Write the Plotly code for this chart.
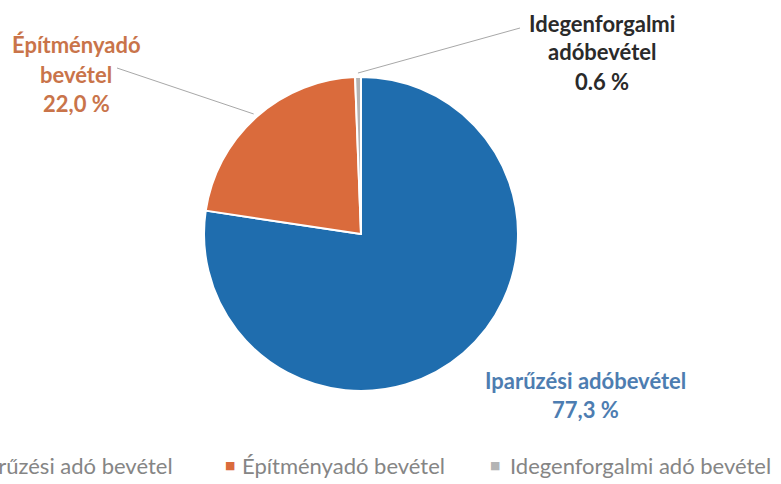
import math
import plotly.graph_objects as go

# adatok
labels = ["Iparűzési adó bevétel", "Építményadó bevétel", "Idegenforgalmi adó bevétel"]
values = [77.3, 22.0, 0.6]
value_text = ["77,3 %", "22,0 %", "0.6 %"]
label_lines = [["Iparűzési adóbevétel"], ["Építményadó", "bevétel"], ["Idegenforgalmi", "adóbevétel"]]
colors = ["#1F6DAE", "#DA6B3C", "#B4B4B4"]
text_colors = ["#4D7DB1", "#C9744A", "#2A2A2A"]

W, H = 781, 484
cx, cy, r = 361, 234, 157  # pie centre/radius in px

fig = go.Figure()
fig.add_trace(go.Pie(
    labels=labels, values=values, sort=False, direction="clockwise", rotation=0,
    marker=dict(colors=colors, line=dict(color="white", width=2)),
    textinfo="none", hoverinfo="label+percent", showlegend=False,
    domain=dict(x=[(cx - r) / W, (cx + r) / W], y=[1 - (cy + r) / H, 1 - (cy - r) / H]),
))


def edge_point(i, rr):
    # point at radius rr, in the middle of slice i
    total = sum(values)
    start = sum(values[:i]) / total * 360
    mid = math.radians(start + values[i] / total * 180)
    return (cx + rr * math.sin(mid)) / W, 1 - (cy - rr * math.cos(mid)) / H


# leader lines
for i, (tx, ty) in [(1, (117, 68)), (2, (520, 28))]:
    ex, ey = edge_point(i, r + 4)
    fig.add_shape(type="line", xref="paper", yref="paper",
                  x0=ex, y0=ey, x1=tx / W, y1=1 - ty / H,
                  line=dict(color="#A8A8A8", width=1))

# labels: centre x, y of first line, line spacing
label_pos = [(585, 380), (76, 45), (602, 23)]
line_gap = 29
for i, (px, py) in enumerate(label_pos):
    lines = label_lines[i] + [value_text[i]]
    for k, txt in enumerate(lines):
        fig.add_annotation(
            x=px / W, y=1 - (py + k * line_gap) / H, xref="paper", yref="paper",
            showarrow=False, text=f"<b>{txt}</b>",
            font=dict(family="Lato", size=22, color=text_colors[i]),
            xanchor="center", yanchor="middle",
        )

# legend (drawn by hand: the first entry runs off the left edge in the original)
legend_marker_x = [-36, 230, 495]
legend_text_x = [175, 240, 508]
legend_y = 465
for i, name in enumerate(labels):
    fig.add_annotation(
        x=legend_marker_x[i] / W, y=1 - legend_y / H, xref="paper", yref="paper",
        showarrow=False, text="■", font=dict(family="DejaVu Sans", size=11, color=colors[i]),
        xanchor="center", yanchor="middle",
    )
    fig.add_annotation(
        x=legend_text_x[i] / W, y=1 - legend_y / H, xref="paper", yref="paper",
        showarrow=False, text=name, font=dict(family="Lato", size=22, color="#858585"),
        xanchor="right" if i == 0 else "left", yanchor="middle",
    )

fig.update_layout(
    width=W, height=H,
    margin=dict(l=0, r=0, t=0, b=0, autoexpand=False),
    paper_bgcolor="white", plot_bgcolor="white",
    showlegend=False,
)

fig.write_html("out.html", config={"displayModeBar": False},
               post_script="document.body.style.margin='0px';")
